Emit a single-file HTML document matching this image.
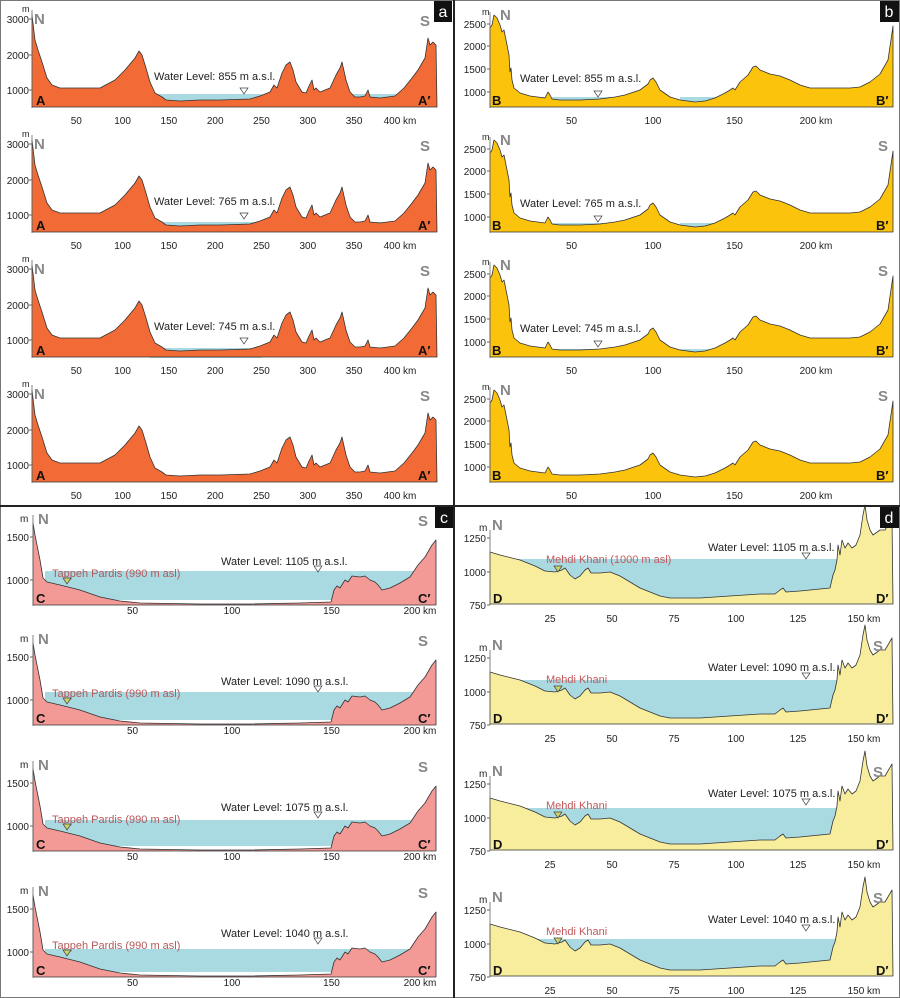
<!DOCTYPE html>
<html><head><meta charset="utf-8"><style>
html,body{margin:0;padding:0;background:#fff;}
svg{display:block;font-family:"Liberation Sans",sans-serif;}
</style></head><body>
<svg id="s" width="900" height="998" viewBox="0 0 900 998" xmlns="http://www.w3.org/2000/svg">
<rect x="0.5" y="0.5" width="899" height="997" fill="#fff" stroke="#777" stroke-width="1"/>
</svg>
<script>
const S=document.getElementById('s');let h='';
function poly(pts,dy,fill,stroke){return '<polygon points="'+pts.map(p=>p[0]+','+(p[1]+dy)).join(' ')+'" fill="'+fill+'" stroke="'+(stroke||'none')+'" stroke-width="0.8" stroke-linejoin="round"/>';}
function txt(x,y,t,o){o=o||{};return '<text x="'+x+'" y="'+y+'" font-size="'+(o.s||11)+'" fill="'+(o.c||'#222')+'"'+(o.w?' font-weight="bold"':'')+(o.a?' text-anchor="'+o.a+'"':'')+'>'+t+'</text>';}
function tri(x,y,c){return '<polygon points="'+(x-4)+','+y+' '+(x+4)+','+y+' '+x+','+(y+6)+'" fill="'+(c||'#fff')+'" stroke="#444" stroke-width="0.7"/>';}
// Panel a
const A=[[32,107],[32,15],[35,40],[38,50],[42,62],[47,78],[52,85],[60,88],[100,88],[115,80],[125,70],[135,58],[139,51],[142,55],[146,68],[150,82],[155,93],[162,97],[166,100],[180,101],[200,100],[220,100],[250,99],[260,96],[270,92],[274,85],[277,88],[282,73],[286,65],[290,62],[293,70],[296,82],[302,92],[306,93],[309,86],[312,80],[314,90],[316,88],[320,92],[330,88],[336,75],[340,68],[342,62],[346,80],[350,92],[355,97],[360,97],[365,96],[368,90],[370,97],[380,98],[395,96],[404,88],[408,83],[412,78],[418,70],[425,58],[428,38],[430,45],[433,42],[436,45],[437,107]];
const aw=[[94,'855'],[97,'765'],[98,'745'],[0,'']];
[0,125,250,375].forEach((dy,i)=>{
 if(aw[i][0]){h+='<rect x="150" y="'+(aw[i][0]+dy)+'" width="112" height="10" fill="#a9d9e1"/><rect x="352" y="'+(aw[i][0]+dy)+'" width="48" height="8" fill="#a9d9e1"/>';}
 h+=poly(A,dy,'#f26a35','#333');
 h+='<line x1="32" y1="'+(10+dy)+'" x2="32" y2="'+(108+dy)+'" stroke="#666" stroke-width="0.8"/>';
 [[19,'3000'],[55,'2000'],[90,'1000']].forEach(t=>{h+=txt(29,t[0]+4+dy,t[1],{a:'end',s:10})+'<line x1="29" x2="32" y1="'+(t[0]+dy)+'" y2="'+(t[0]+dy)+'" stroke="#666"/>';});
 h+=txt(22,12+dy,'m',{s:9});
 [50,100,150,200,250,300,350].forEach(k=>{const x=30+k*0.926;h+=txt(x,124+dy,k,{a:'middle',s:10});});
 h+=txt(400,124+dy,'400 km',{a:'middle',s:10});
 h+=txt(34,24+dy,'N',{s:15,c:'#888',w:1})+txt(420,26+dy,'S',{s:15,c:'#888',w:1});
 h+=txt(36,105+dy,'A',{s:13,w:1,c:'#111'})+txt(418,105+dy,'A′',{s:13,w:1,c:'#111'});
 if(aw[i][0]){h+=txt(154,80+dy,'Water Level: '+aw[i][1]+' m a.s.l.',{s:11});h+=tri(244,88+dy);}
});
h+='<rect x="434" y="1" width="18" height="21" fill="#111"/>'+txt(443,17,'a',{s:16,c:'#fff',a:'middle'});
// Panel b
const B=[[490,107],[490,28],[492,25],[494,15],[497,18],[500,25],[502,32],[504,30],[506,40],[509,55],[510,72],[511,68],[512,80],[514,88],[520,93],[530,96],[545,98],[548,92],[550,95],[552,99],[560,100],[580,100],[600,99],[615,97],[625,95],[640,90],[648,84],[650,80],[653,78],[656,82],[660,90],[670,97],[680,100],[695,102],[705,101],[715,98],[725,93],[730,90],[733,88],[735,90],[740,82],[748,75],[753,67],[756,66],[760,70],[770,74],[780,76],[790,80],[800,85],[810,88],[820,88],[850,88],[860,87],[870,82],[880,74],[888,60],[893,26],[893,107]];
const bw=[[97,'855'],[98,'765'],[99,'745'],[0,'']];
[0,125,250,375].forEach((dy,i)=>{
 if(bw[i][0]){h+='<rect x="522" y="'+(bw[i][0]+dy)+'" width="96" height="6" fill="#a9d9e1"/><rect x="680" y="'+(bw[i][0]+dy)+'" width="36" height="6" fill="#a9d9e1"/>';}
 h+=poly(B,dy,'#fcc30d','#333');
 h+='<line x1="490" y1="'+(12+dy)+'" x2="490" y2="'+(108+dy)+'" stroke="#666" stroke-width="0.8"/>';
 [[24,'2500'],[46,'2000'],[69,'1500'],[92,'1000']].forEach(t=>{h+=txt(486,t[0]+4+dy,t[1],{a:'end',s:10})+'<line x1="487" x2="490" y1="'+(t[0]+dy)+'" y2="'+(t[0]+dy)+'" stroke="#666"/>';});
 h+=txt(482,15+dy,'m',{s:9});
 [50,100,150].forEach(k=>{const x=490+k*1.63;h+=txt(x,124+dy,k,{a:'middle',s:10});});
 h+=txt(816,124+dy,'200 km',{a:'middle',s:10});
 h+=txt(500,20+dy,'N',{s:15,c:'#888',w:1})+(i?txt(878,26+dy,'S',{s:15,c:'#888',w:1}):'');
 h+=txt(492,105+dy,'B',{s:13,w:1,c:'#111'})+txt(876,105+dy,'B′',{s:13,w:1,c:'#111'});
 if(bw[i][0]){h+=txt(520,82+dy,'Water Level: '+bw[i][1]+' m a.s.l.',{s:11});h+=tri(598,91+dy);}
});
h+='<rect x="880" y="1" width="19" height="21" fill="#111"/>'+txt(889,17,'b',{s:16,c:'#fff',a:'middle'});
// Panel c
const C=[[33,605],[33,523],[35,535],[37,545],[40,560],[43,578],[47,582],[60,585],[80,590],[100,597],[120,601],[140,603],[200,604],[250,604],[300,603],[331,602],[334,590],[337,586],[340,588],[345,580],[348,582],[352,576],[360,577],[365,576],[370,580],[375,582],[378,585],[382,590],[390,588],[400,583],[410,577],[418,565],[425,557],[432,545],[436,540],[436,605]];
const cw=[[571,'1105'],[572,'1090'],[574,'1075'],[577,'1040']];
const co=[0,120,246,372];
co.forEach((dy,i)=>{
 h+='<rect x="45" y="'+(cw[i][0]+dy)+'" width="378" height="'+(605-cw[i][0]-5)+'" fill="#a9d9e1"/>';
 h+=poly(C,dy,'#f39a96','#333');
 h+='<line x1="33" y1="'+(515+dy)+'" x2="33" y2="'+(606+dy)+'" stroke="#666" stroke-width="0.8"/>';
 [[537,'1500'],[580,'1000']].forEach(t=>{h+=txt(29,t[0]+4+dy,t[1],{a:'end',s:10})+'<line x1="30" x2="33" y1="'+(t[0]+dy)+'" y2="'+(t[0]+dy)+'" stroke="#666"/>';});
 h+=txt(20,522+dy,'m',{s:10});
 [50,100,150].forEach(k=>{const x=33+k*1.99;h+=txt(x,614+dy,k,{a:'middle',s:10});});
 h+=txt(420,614+dy,'200 km',{a:'middle',s:10});
 h+=txt(38,524+dy,'N',{s:15,c:'#888',w:1})+txt(418,526+dy,'S',{s:15,c:'#888',w:1});
 h+=txt(36,603+dy,'C',{s:13,w:1,c:'#111'})+txt(418,603+dy,'C′',{s:13,w:1,c:'#111'});
 h+=txt(221,565+dy,'Water Level: '+cw[i][1]+' m a.s.l.',{s:11});h+=tri(318,566+dy);
 h+=txt(52,577+dy,'Tappeh Pardis (990 m asl)',{s:11,c:'#b5585a'});h+=tri(67,578+dy,'#cbd36a');
});
h+='<rect x="435" y="507" width="18" height="21" fill="#111"/>'+txt(444,523,'c',{s:16,c:'#fff',a:'middle'});
// Panel d
const D=[[490,604],[490,552],[500,555],[520,560],[535,566],[545,571],[555,572],[562,570],[565,568],[570,575],[575,579],[580,576],[585,570],[588,568],[591,573],[600,573],[610,572],[620,576],[630,582],[640,588],[650,592],[660,596],[670,598],[700,598],[730,596],[760,594],[775,594],[780,590],[783,588],[786,592],[800,591],[830,588],[833,575],[835,570],[837,560],[838,545],[840,555],[842,540],[845,548],[848,543],[852,548],[856,545],[860,535],[863,515],[865,505],[867,520],[870,530],[873,535],[880,530],[885,530],[892,518],[893,604]];
const dw=[[559,'1105','Mehdi Khani (1000 m asl)'],[560,'1090','Mehdi Khani'],[562,'1075','Mehdi Khani'],[567,'1040','Mehdi Khani']];
co.forEach((dy,i)=>{
 h+='<rect x="500" y="'+(dw[i][0]+dy)+'" width="340" height="'+(600-dw[i][0])+'" fill="#a9d9e1"/>';
 h+=poly(D,dy,'#f7ed9c','#333');
 h+='<line x1="490" y1="'+(530+dy)+'" x2="490" y2="'+(605+dy)+'" stroke="#666" stroke-width="0.8"/>';
 [[538,'1250'],[572,'1000'],[605,'750']].forEach(t=>{h+=txt(486,t[0]+4+dy,t[1],{a:'end',s:10})+'<line x1="487" x2="490" y1="'+(t[0]+dy)+'" y2="'+(t[0]+dy)+'" stroke="#666"/>';});
 h+=txt(479,531+dy,'m',{s:10});
 [25,50,75,100,125].forEach(k=>{const x=488+k*2.48;h+=txt(x,622+dy,k,{a:'middle',s:10});});
 h+=txt(864,622+dy,'150 km',{a:'middle',s:10});
 h+=txt(492,530+dy,'N',{s:15,c:'#888',w:1})+(i?txt(873,531+dy,'S',{s:15,c:'#888',w:1}):'');
 h+=txt(493,603+dy,'D',{s:13,w:1,c:'#111'})+txt(876,603+dy,'D′',{s:13,w:1,c:'#111'});
 h+=txt(708,551+dy,'Water Level: '+dw[i][1]+' m a.s.l.',{s:11});h+=tri(806,553+dy);
 h+=txt(546,563+dy,dw[i][2],{s:11,c:'#c05a5c'});h+=tri(558,566+dy,'#cbd36a');
});
h+='<rect x="880" y="507" width="19" height="21" fill="#111"/>'+txt(889,523,'d',{s:16,c:'#fff',a:'middle'});
// dividers
h+='<line x1="454" y1="0" x2="454" y2="998" stroke="#222" stroke-width="2"/><line x1="0" y1="506" x2="900" y2="506" stroke="#222" stroke-width="2"/>';
S.insertAdjacentHTML('beforeend',h);
</script>
</body></html>
